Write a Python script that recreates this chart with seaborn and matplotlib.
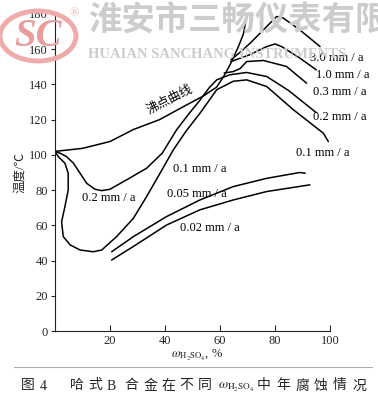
import matplotlib
matplotlib.use("Agg")
import matplotlib.pyplot as plt
import seaborn as sns
import pandas as pd
from matplotlib.patches import Ellipse

# curve data: w(H2SO4) %, temperature C
boil_x = [0, 10, 20, 28.5, 38, 46.7, 54, 58.8, 61.5, 63.6, 66.7, 68.5, 69.7]
boil_y = [102, 103.7, 107.6, 114.4, 120, 127.4, 133.5, 138.5, 145, 151, 161.5, 168.6, 178.6]

r30_x = [64, 67.5, 71, 77, 80.6, 83, 89, 96.4]
r30_y = [154, 158.5, 163.5, 172.9, 178.6, 177.7, 171, 161.5]

r10_x = [64, 67.5, 71, 77, 80, 82.4, 89, 95]
r10_y = [153, 155, 157, 161.5, 163, 161.5, 155, 148.3]

r03_x = [61.5, 64.8, 67.3, 69.7, 75.8, 84.2, 91.5]
r03_y = [146.5, 147.3, 149, 153, 153.6, 150.2, 140.7]

r02_x = [0, 1.8, 4.2, 6.7, 9.1, 11.5, 14.5, 17, 20, 26, 33.3, 39, 44.2, 48.5,
         52.7, 56, 58.8, 63.6, 69.7, 77, 85, 95]
r02_y = [102, 101, 99, 95.3, 89.6, 83.9, 80.5, 79.7, 80.5, 85.8, 92.4, 101, 114.2, 123,
         131, 138, 142.6, 145.5, 146.8, 144.5, 136.5, 124]

r01_x = [0, 1.2, 3.6, 4.8, 4.8, 3.6, 2.4, 3, 5.5, 9.1, 13.9, 17, 22.4, 28.5, 33.3,
         38.2, 43, 47.9, 52.7, 58.8, 64.8, 69.7, 77, 86.7, 97.6, 99.4]
r01_y = [102, 99, 95.3, 89.6, 80, 70.6, 62, 53.6, 48.9, 46, 45, 46, 53.6, 64, 76.3,
         89.6, 102.8, 114, 123.6, 137, 141.8, 142.6, 138.8, 125.6, 112.3, 107.5]

r005_x = [20.6, 28.5, 40.6, 52.7, 64.8, 77, 89, 91]
r005_y = [45, 53.6, 65, 74.4, 82, 86.7, 90, 89.6]

r002_x = [20.6, 28.5, 40.6, 52.7, 64.8, 77, 92.7]
r002_y = [40.3, 48, 60.2, 68.8, 74.4, 79.2, 83]

curves = {
    "boil": (boil_x, boil_y),
    "3.0": (r30_x, r30_y),
    "1.0": (r10_x, r10_y),
    "0.3": (r03_x, r03_y),
    "0.2": (r02_x, r02_y),
    "0.1": (r01_x, r01_y),
    "0.05": (r005_x, r005_y),
    "0.02": (r002_x, r002_y),
}

sns.set_style("ticks")
serif_cjk = ["Liberation Serif", "Noto Sans CJK SC"]
plt.rcParams["font.family"] = serif_cjk
plt.rcParams["mathtext.fontset"] = "stix"

W, H = 378, 400
fig = plt.figure(figsize=(W / 100, H / 100), dpi=100)
ax = fig.add_axes([55 / W, 69 / H, 275 / W, 317 / H])

for name, (xs, ys) in curves.items():
    df = pd.DataFrame({"x": xs, "y": ys})
    sns.lineplot(data=df, x="x", y="y", sort=False, estimator=None,
                 color="black", linewidth=1.1, ax=ax)

ax.set_xlim(0, 100)
ax.set_ylim(0, 180)
ax.set_xticks([20, 40, 60, 80, 100])
ax.set_yticks(range(0, 181, 20))
ax.tick_params(axis="x", direction="in", length=4, width=0.8, labelsize=9, pad=3)
ax.tick_params(axis="y", direction="out", length=3, width=0.8, labelsize=9, pad=2)
sns.despine(ax=ax)
for s in ["left", "bottom"]:
    ax.spines[s].set_linewidth(0.8)
    ax.spines[s].set_color("#222222")

ax.set_xlabel(r"$\omega_{\mathrm{H_2SO_4}}$, %", fontsize=9)
ax.xaxis.set_label_coords(0.516, -0.052)
ax.set_ylabel("温度/℃", fontsize=9)
ax.yaxis.set_label_coords(-0.105, 0.5)

# curve labels
lab = dict(fontsize=9, color="black", ha="center", va="center", clip_on=False)
ax.text(41.8, 131, "沸点曲线", rotation=27, **lab)
ax.text(102.5, 155, "3.0 mm / a", **lab)
ax.text(104.7, 145.5, "1.0 mm / a", **lab)
ax.text(103.6, 135.8, "0.3 mm / a", **lab)
ax.text(103.6, 121.6, "0.2 mm / a", **lab)
ax.text(97.5, 101, "0.1 mm / a", **lab)
ax.text(52.7, 91.8, "0.1 mm / a", **lab)
ax.text(19.4, 75.6, "0.2 mm / a", **lab)
ax.text(51.5, 77.8, "0.05 mm / a", **lab)
ax.text(56.4, 58.5, "0.02 mm / a", **lab)

# watermark
fig.patches.append(Ellipse((38 / W, 1 - 36 / H), 76 / W, 50 / H,
                           transform=fig.transFigure, fill=False,
                           edgecolor="#f0aaaa", linewidth=3.5, zorder=0))
fig.text(38 / W, 1 - 37 / H, "SC", fontsize=28, fontweight="bold",
         style="italic", color="#eb9c9c", ha="center", va="center",
         family="Liberation Serif", zorder=0)
fig.text(74 / W, 1 - 13 / H, "®", fontsize=9, color="#f0b0b0",
         ha="center", va="center", zorder=0)
fig.text(88 / W, 1 - 21 / H, "淮安市三畅仪表有限", fontsize=24, fontweight="bold",
         color="#cccccc", ha="left", va="center", family=serif_cjk, zorder=0)
fig.text(88 / W, 1 - 55 / H, "HUAIAN SANCHANG INSTRUMENTS", fontsize=10.5,
         fontweight="bold", color="#cccccc", ha="left", va="center",
         family="Liberation Serif", zorder=0)

# caption with rule above
fig.add_artist(plt.Line2D([14 / W, 372 / W], [1 - 367 / H, 1 - 367 / H],
                          transform=fig.transFigure, color="#aaaaaa", linewidth=0.8))
cap_y = 1 - 386 / H
cap = dict(fontsize=10, ha="left", va="center", family=serif_cjk)
fig.text(21 / W, cap_y, "图", **cap)
fig.text(40 / W, cap_y, "4", **cap)
for i, ch in enumerate("哈式B合金在不同"):
    fig.text((70 + i * 18.3) / W, cap_y, ch, **cap)
fig.text(218 / W, cap_y - 0.003, r"$\omega_{\mathrm{H_2SO_4}}$", fontsize=9.5,
         ha="left", va="center")
for i, ch in enumerate("中年腐蚀情况"):
    fig.text((257 + i * 19) / W, cap_y, ch, **cap)

fig.savefig("out.png", dpi=100)
